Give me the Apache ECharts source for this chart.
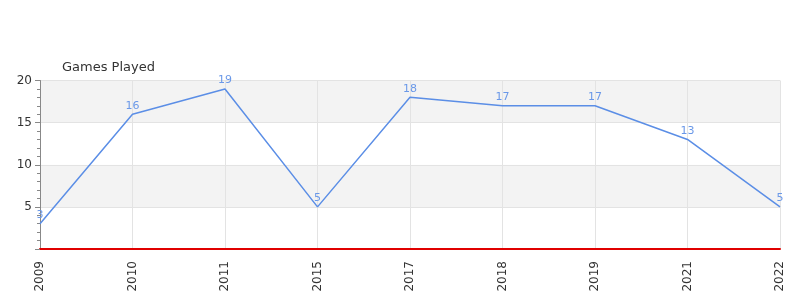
<!DOCTYPE html>
<html>
<head>
<meta charset="utf-8">
<script src="https://cdn.jsdelivr.net/npm/echarts@6/dist/echarts.min.js"></script>
<style>html,body{margin:0;padding:0;background:#fff}#c{width:800px;height:300px}</style>
</head>
<body>
<div id="c"></div>
<script>
const categories = ['2009','2010','2011','2015','2017','2018','2019','2021','2022'];
const gamesPlayed = [3,16,19,5,18,17,17,13,5];
const yTicks = [0,5,10,15,20];

const chart = echarts.init(document.getElementById('c'), null, {renderer:'canvas'});
chart.setOption({
  animation:false,
  title:{text:'Games Played', left:57, top:56, textStyle:{fontSize:13, fontWeight:'normal', color:'#333', fontFamily:'DejaVu Sans'}},
  grid:{left:40, right:20, top:80.5, bottom:51},
  xAxis:{
    type:'category', data:categories, boundaryGap:false,
    axisLine:{lineStyle:{color:'#e00000', width:2}},
    axisTick:{show:false},
    axisLabel:{rotate:90, fontSize:12, color:'#333', fontFamily:'DejaVu Sans', margin:12},
    splitLine:{show:true, lineStyle:{color:'#e3e3e3'}}
  },
  yAxis:{
    type:'value', min:yTicks[0], max:yTicks[yTicks.length-1], interval:5,
    axisLine:{show:true, lineStyle:{color:'#888'}},
    axisTick:{show:true, length:5, lineStyle:{color:'#888'}},
    minorTick:{show:true, splitNumber:5, length:3, lineStyle:{color:'#888'}},
    axisLabel:{showMinLabel:false, fontSize:12, color:'#333', fontFamily:'DejaVu Sans', margin:8},
    splitLine:{show:true, lineStyle:{color:'#e3e3e3'}},
    splitArea:{show:true, areaStyle:{color:['#ffffff','#f3f3f3']}}
  },
  series:[{
    type:'line', data:gamesPlayed, symbol:'circle', symbolSize:2, showSymbol:true,
    itemStyle:{color:'rgba(0,0,0,0)', borderWidth:0},
    lineStyle:{color:'#5b8ee6', width:1.5},
    labelLayout:{hideOverlap:false},
    label:{show:true, position:'top', distance:2, color:'#6a98e8', fontSize:11, fontFamily:'DejaVu Sans'}
  }]
});
</script>
</body>
</html>
